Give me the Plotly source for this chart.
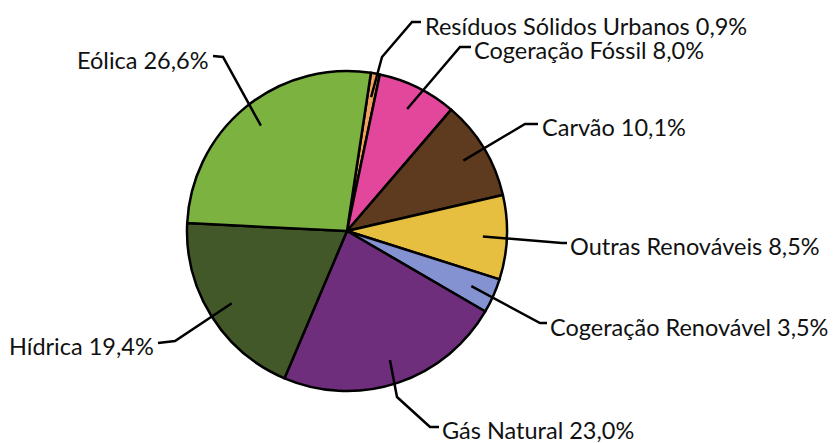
import math
import plotly.graph_objects as go

# page body has an 8px margin: figure placed at (8, 8); coordinates below are window pixels
OFF = 8
W, H = 839, 443

labels = ["Resíduos Sólidos Urbanos", "Cogeração Fóssil", "Carvão", "Outras Renováveis",
          "Cogeração Renovável", "Gás Natural", "Hídrica", "Eólica"]
values = [0.9, 8.0, 10.1, 8.5, 3.5, 23.0, 19.4, 26.6]
value_text = ["0,9%", "8,0%", "10,1%", "8,5%", "3,5%", "23,0%", "19,4%", "26,6%"]
colors = ["#F2A05E", "#E2479C", "#5E3A1E", "#E6BE40", "#8592D2", "#6E2E7C", "#435828", "#7CB340"]

# pie geometry (window pixels)
CX, CY, R = 347, 231, 160
ROT = 8.6

# label layout (window pixel positions: text anchor, elbow, stub end) and side
label_pos = [
    (423, 26, "left"), (472, 50, "left"), (540, 127, "left"), (568, 246, "left"),
    (548, 327, "left"), (440, 430, "left"), (156, 346, "right"), (211, 60, "right"),
]
elbows = [
    [(382, 57), (412, 22), (421, 22)],
    [(460, 47), (471, 47)],
    [(525, 124), (538, 124)],
    [(562, 243), (567, 243)],
    [(540, 323), (547, 323)],
    [(397, 397), (430, 427), (439, 427)],
    [(175, 341), (158, 343)],
    [(223, 57), (213, 56)],
]

def px(x, y):
    return (x - OFF) / W, 1 - (y - OFF) / H

x0, y0 = px(CX - R, CY + R)
x1, y1 = px(CX + R, CY - R)

fig = go.Figure(go.Pie(
    labels=labels, values=values, sort=False, direction="clockwise", rotation=ROT,
    marker=dict(colors=colors, line=dict(color="#000000", width=2.5)),
    textinfo="none", hoverinfo="label+percent", showlegend=False,
    domain=dict(x=[x0, x1], y=[y0, y1]),
))

total = sum(values)
cum = 0.0
shapes = []
annotations = []
for i, v in enumerate(values):
    mid = ROT + 360 * (cum + v / 2) / total
    cum += v
    a = math.radians(mid)
    sx = CX + 0.85 * R * math.sin(a)
    sy = CY - 0.85 * R * math.cos(a)
    pts = [(sx, sy)] + elbows[i]
    path = "M " + " L ".join(f"{px(x, y)[0]:.5f},{px(x, y)[1]:.5f}" for x, y in pts)
    shapes.append(dict(type="path", xref="paper", yref="paper", path=path,
                       line=dict(color="#000000", width=2.5)))
    lx, ly, side = label_pos[i]
    ax, ay = px(lx, ly)
    annotations.append(dict(x=ax, y=ay, xref="paper", yref="paper", showarrow=False,
                            text=f"{labels[i]} {value_text[i]}", xanchor=side, yanchor="middle",
                            font=dict(family="Lato", size=23.5, color="#111111")))

fig.update_layout(width=W, height=H, margin=dict(l=0, r=0, t=0, b=0),
                  paper_bgcolor="white", plot_bgcolor="white",
                  shapes=shapes, annotations=annotations)
fig.write_html("out.html")
